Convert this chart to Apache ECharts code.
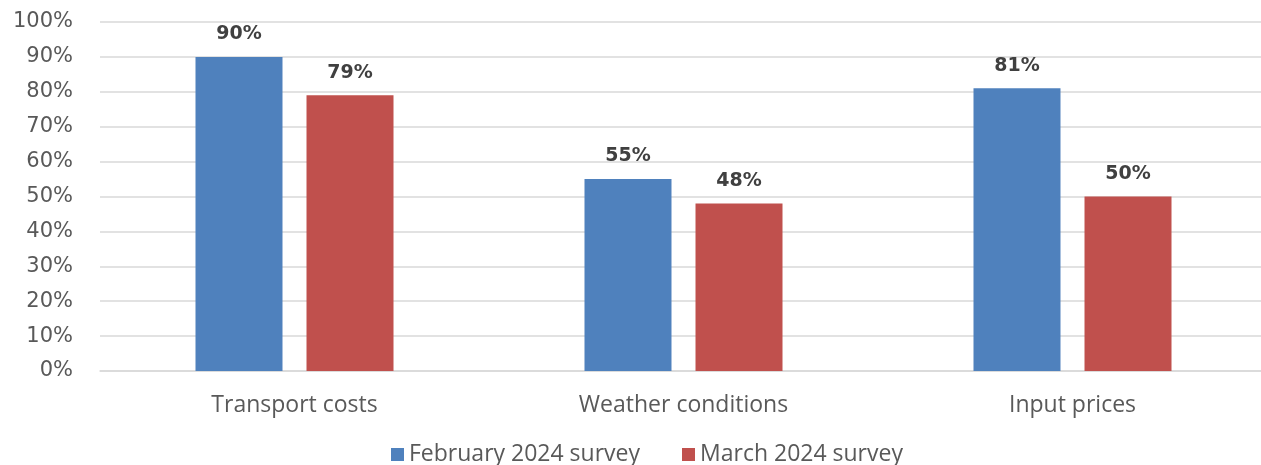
<!DOCTYPE html>
<html>
<head>
<meta charset="utf-8">
<script src="https://cdn.jsdelivr.net/npm/echarts@6/dist/echarts.min.js"></script>
<style>
  html, body { margin: 0; padding: 0; background: #ffffff; }
  #chart { width: 1261px; height: 465px; }
</style>
</head>
<body>
<div id="chart"></div>
<script>
// Survey factors and the share of respondents citing each one (%)
const categories = ['Transport costs', 'Weather conditions', 'Input prices'];
const february2024 = [90, 55, 81];
const march2024 = [79, 48, 50];
const seriesNames = ['February 2024 survey', 'March 2024 survey'];

const chart = echarts.init(document.getElementById('chart'), null, { renderer: 'canvas' });

const labelStyle = {
  show: true,
  position: 'top',
  distance: 13,
  formatter: p => p.value + '%',
  color: '#404040',
  fontFamily: 'DejaVu Sans',
  fontWeight: 'bold',
  fontSize: 19
};

chart.setOption({
  animation: false,
  backgroundColor: '#ffffff',
  // plot area runs slightly past the right edge of the canvas
  grid: {
    left: 100, width: 1167, top: 22, height: 349,
    containLabel: false,
    outerBoundsMode: 'none'
  },
  legend: {
    data: seriesNames,
    top: 438,
    left: 386,
    icon: 'rect',
    itemWidth: 13,
    itemHeight: 13,
    itemGap: 42,
    textStyle: { color: '#595959', fontFamily: 'Open Sans', fontSize: 23 }
  },
  xAxis: {
    type: 'category',
    data: categories,
    axisLine: { show: true, lineStyle: { color: '#d9d9d9', width: 1.5 } },
    axisTick: { show: false },
    axisLabel: { color: '#595959', fontFamily: 'Open Sans', fontSize: 23, margin: 23 }
  },
  yAxis: {
    type: 'value',
    min: 0,
    max: 100,
    interval: 10,
    axisLine: { show: false },
    axisTick: { show: false },
    axisLabel: {
      formatter: '{value}%',
      color: '#595959',
      fontFamily: 'DejaVu Sans',
      fontSize: 21,
      margin: 27
    },
    splitLine: { lineStyle: { color: '#d9d9d9', width: 1.5 } }
  },
  series: [
    {
      name: seriesNames[0],
      type: 'bar',
      data: february2024,
      barWidth: 87,
      barGap: '27.6%',
      itemStyle: { color: '#4f81bd' },
      label: labelStyle
    },
    {
      name: seriesNames[1],
      type: 'bar',
      data: march2024,
      barWidth: 87,
      itemStyle: { color: '#c0504d' },
      label: labelStyle
    }
  ]
});
</script>
</body>
</html>
